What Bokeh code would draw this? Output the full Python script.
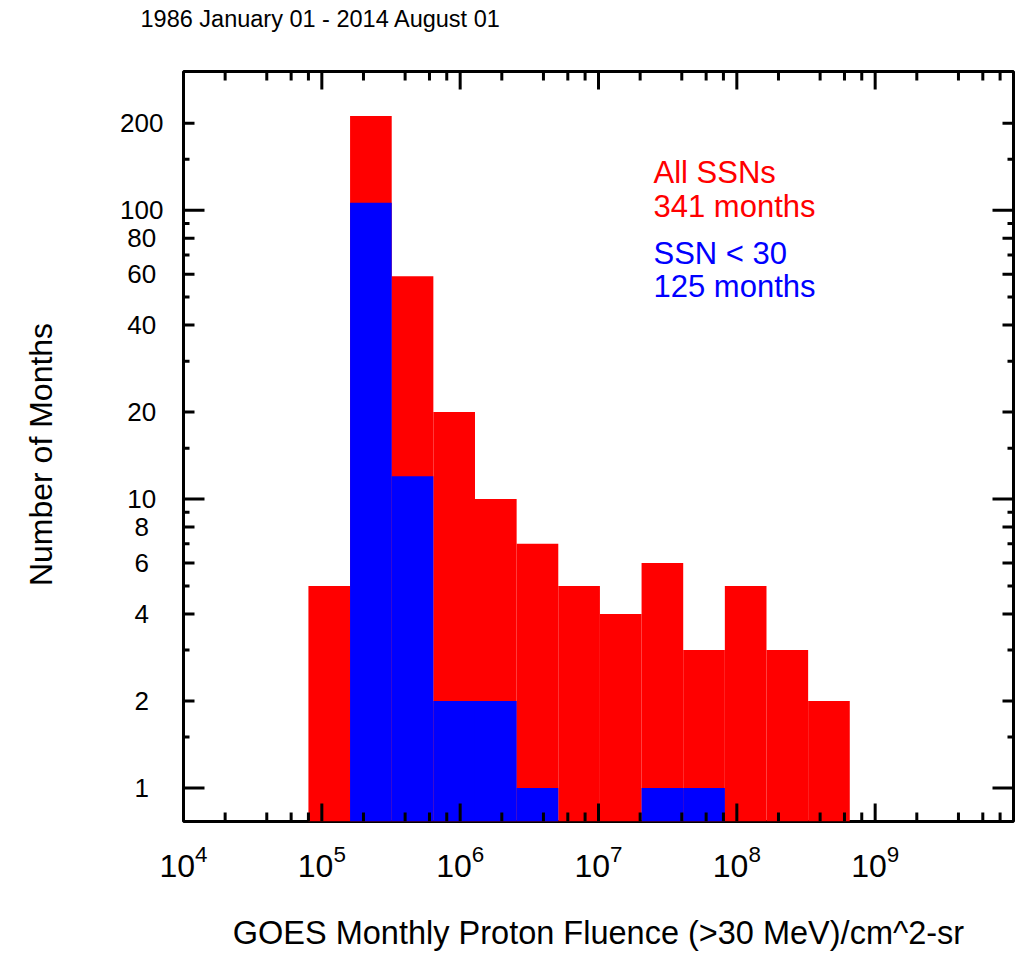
import math

from bokeh.embed import file_html
from bokeh.models import (ColumnDataSource, FixedTicker, Label, LogTickFormatter,
                          PrintfTickFormatter, Range1d, Title)
from bokeh.plotting import figure
from bokeh.resources import INLINE

FONT = "Liberation Sans"
RED = "#ff0000"
BLUE = "#0000ff"

# Histogram bins: fluence doubles from one bin edge to the next
bin_edges = [8.0e4, 1.6e5, 3.2e5, 6.4e5, 1.28e6, 2.56e6, 5.12e6,
             1.024e7, 2.048e7, 4.096e7, 8.192e7, 1.6384e8, 3.2768e8, 6.5536e8]
# Months per bin, all sunspot numbers
months_all = [5, 212, 59, 20, 10, 7, 5, 4, 6, 3, 5, 3, 2]
# Months per bin with sunspot number below 30
months_low_ssn = [0, 106, 12, 2, 2, 1, 0, 0, 1, 1, 0, 0, 0]

# Axis ticks
y_tick_labels = [1, 2, 4, 6, 8, 10, 20, 40, 60, 80, 100, 200]
y_ticks_long = [1, 10, 100]
y_ticks_mid = [2, 4, 6, 8, 20, 40, 60, 80, 200]
y_ticks_short = [1.5, 3, 5, 7, 9, 15, 30, 50, 70, 90, 150]
x_decades = [1e4, 1e5, 1e6, 1e7, 1e8, 1e9]
x_ticks_long = [1e5, 1e6, 1e7, 1e8, 1e9]
x_ticks_short = [m * d for d in x_decades for m in (2, 4, 6, 8)]

X_MIN, X_MAX = 1e4, 1e10
Y_MIN, Y_MAX = 0.765, 302

p = figure(width=1016, height=953, x_axis_type="log", y_axis_type="log",
           x_range=Range1d(X_MIN, X_MAX), y_range=Range1d(Y_MIN, Y_MAX),
           title="1986 January 01 - 2014 August 01",
           output_backend="svg", toolbar_location=None, tools="",
           min_border_left=183, min_border_right=3,
           min_border_top=71, min_border_bottom=132)
p.grid.visible = False
p.background_fill_color = "white"
p.border_fill_color = "white"
p.outline_line_color = "black"
p.outline_line_width = 3
p.outline_line_alpha = 1.0

p.title.align = "left"
p.title.offset = -43
p.title.standoff = 0
p.title.text_font = FONT
p.title.text_font_size = "23.5px"
p.title.text_font_style = "normal"
p.title.text_color = "black"
# blank band between the title and the frame
p.add_layout(Title(text="\u2007", text_font=FONT, text_font_size="20px", standoff=16), "above")

# Bars: all months in red, low-SSN months drawn over them in blue
all_src = ColumnDataSource(dict(left=bin_edges[:-1], right=bin_edges[1:], top=months_all))
p.quad(left="left", right="right", top="top", bottom=Y_MIN, source=all_src,
       fill_color=RED, line_color=None)

low = [(l, r, n) for l, r, n in zip(bin_edges[:-1], bin_edges[1:], months_low_ssn) if n > 0]
low_src = ColumnDataSource(dict(left=[b[0] for b in low], right=[b[1] for b in low],
                                top=[b[2] for b in low]))
p.quad(left="left", right="right", top="top", bottom=Y_MIN, source=low_src,
       fill_color=BLUE, line_color=None)


# Inward tick marks on all four sides of the frame
def y_ticks(vals, length):
    n = len(vals)
    p.ray(x=[X_MIN] * n, y=vals, length=length, length_units="screen", angle=0,
          line_color="black", line_width=3)
    p.ray(x=[X_MAX] * n, y=vals, length=length, length_units="screen", angle=math.pi,
          line_color="black", line_width=3)


def x_ticks(vals, length):
    n = len(vals)
    p.ray(x=vals, y=[Y_MIN] * n, length=length, length_units="screen", angle=math.pi / 2,
          line_color="black", line_width=3)
    p.ray(x=vals, y=[Y_MAX] * n, length=length, length_units="screen", angle=-math.pi / 2,
          line_color="black", line_width=3)


y_ticks(y_ticks_long, 21)
y_ticks(y_ticks_mid, 11)
y_ticks(y_ticks_short, 6)
x_ticks(x_ticks_long, 18)
x_ticks(x_ticks_short, 9)

# Axes carry only the labels; the frame and tick marks are drawn above
xa = p.xaxis[0]
xa.ticker = FixedTicker(ticks=x_decades)
xa.formatter = LogTickFormatter()
xa.axis_line_color = None
xa.major_tick_in = 0
xa.major_tick_out = 0
xa.minor_tick_in = 0
xa.minor_tick_out = 0
xa.major_label_standoff = 23
xa.major_label_text_font = FONT
xa.major_label_text_font_size = "32px"
xa.major_label_text_color = "black"
xa.axis_label = "GOES Monthly Proton Fluence (>30 MeV)/cm^2-sr"
xa.axis_label_standoff = 35
xa.axis_label_text_font = FONT
xa.axis_label_text_font_size = "32.5px"
xa.axis_label_text_font_style = "normal"
xa.axis_label_text_color = "black"

# Figure spaces pad the short labels so the column reads centred
pad = {1: "\u2007", 2: "\u2008", 3: ""}
ya = p.yaxis[0]
ya.ticker = FixedTicker(ticks=y_tick_labels)
ya.formatter = PrintfTickFormatter(format="%d")
ya.major_label_overrides = {v: str(v) + pad[len(str(v))] for v in y_tick_labels}
ya.axis_line_color = None
ya.major_tick_in = 0
ya.major_tick_out = 0
ya.minor_tick_in = 0
ya.minor_tick_out = 0
ya.major_label_standoff = 20
ya.major_label_text_font = FONT
ya.major_label_text_font_size = "26px"
ya.major_label_text_color = "black"
# trailing en space sets the title a little below the frame's middle
ya.axis_label = "Number of Months\u2002"
ya.axis_label_standoff = 58
ya.axis_label_text_font = FONT
ya.axis_label_text_font_size = "32px"
ya.axis_label_text_font_style = "normal"
ya.axis_label_text_color = "black"

# Key
key_lines = [("All SSNs", RED, 649), ("341 months", RED, 615),
             ("SSN < 30", BLUE, 568), ("125 months", BLUE, 535)]
for txt, col, yy in key_lines:
    p.add_layout(Label(x=470, y=yy, x_units="screen", y_units="screen", text=txt,
                       text_align="left", text_baseline="alphabetic",
                       text_font=FONT, text_font_size="31px", text_color=col))

open("out.html", "w").write(file_html(p, INLINE))
